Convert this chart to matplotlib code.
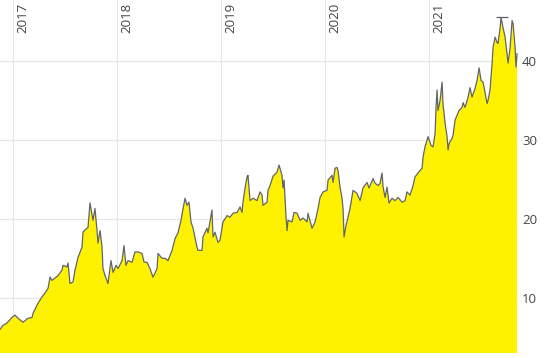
import matplotlib
matplotlib.use("Agg")
import matplotlib.pyplot as plt
import matplotlib.transforms as mtransforms

plt.rcParams["font.family"] = ["Open Sans", "DejaVu Sans"]

# time as decimal years, price values
years = [
    2016.878, 2016.907, 2016.945, 2016.993, 2017.022, 2017.051, 2017.099, 2017.147, 2017.186, 2017.195,
    2017.243, 2017.282, 2017.311, 2017.340, 2017.359, 2017.378, 2017.407, 2017.436, 2017.474, 2017.484,
    2017.522, 2017.532, 2017.551, 2017.580, 2017.599, 2017.628, 2017.666, 2017.676, 2017.705, 2017.724,
    2017.743, 2017.772, 2017.791, 2017.811, 2017.820, 2017.840, 2017.859, 2017.868, 2017.888, 2017.916,
    2017.945, 2017.965, 2017.993, 2018.013, 2018.051, 2018.070, 2018.089, 2018.109, 2018.147, 2018.176,
    2018.205, 2018.243, 2018.263, 2018.291, 2018.320, 2018.349, 2018.388, 2018.397, 2018.436, 2018.464,
    2018.493, 2018.532, 2018.561, 2018.589, 2018.618, 2018.638, 2018.657, 2018.676, 2018.695, 2018.714,
    2018.734, 2018.772, 2018.782, 2018.820, 2018.830, 2018.868, 2018.878, 2018.916, 2018.926, 2018.945,
    2018.974, 2018.993, 2019.022, 2019.061, 2019.089, 2019.118, 2019.157, 2019.186, 2019.205, 2019.214,
    2019.234, 2019.253, 2019.262, 2019.282, 2019.311, 2019.349, 2019.378, 2019.397, 2019.407, 2019.445,
    2019.455, 2019.474, 2019.503, 2019.541, 2019.561, 2019.589, 2019.599, 2019.609, 2019.628, 2019.638,
    2019.647, 2019.686, 2019.705, 2019.734, 2019.763, 2019.791, 2019.830, 2019.839, 2019.878, 2019.907,
    2019.936, 2019.955, 2019.984, 2020.022, 2020.032, 2020.070, 2020.080, 2020.099, 2020.118, 2020.128,
    2020.147, 2020.166, 2020.176, 2020.186, 2020.205, 2020.224, 2020.243, 2020.272, 2020.311, 2020.340,
    2020.368, 2020.407, 2020.426, 2020.465, 2020.484, 2020.513, 2020.532, 2020.551, 2020.561, 2020.580,
    2020.599, 2020.618, 2020.647, 2020.676, 2020.705, 2020.743, 2020.772, 2020.791, 2020.820, 2020.849,
    2020.868, 2020.897, 2020.936, 2020.945, 2020.964, 2020.984, 2020.993, 2021.022, 2021.041, 2021.061,
    2021.070, 2021.080, 2021.089, 2021.109, 2021.128, 2021.137, 2021.157, 2021.176, 2021.186, 2021.195,
    2021.224, 2021.234, 2021.253, 2021.272, 2021.291, 2021.320, 2021.330, 2021.349, 2021.378, 2021.397,
    2021.416, 2021.445, 2021.464, 2021.484, 2021.503, 2021.522, 2021.541, 2021.561, 2021.570, 2021.589,
    2021.609, 2021.618, 2021.638, 2021.657, 2021.666, 2021.686, 2021.695, 2021.714, 2021.734, 2021.753,
    2021.763, 2021.782, 2021.801, 2021.811, 2021.830, 2021.839, 2021.849,
]
prices = [
    6.0, 6.5, 6.8, 7.5, 7.8, 7.4, 6.9, 7.4, 7.5, 8.0,
    9.3, 10.1, 10.6, 11.2, 12.6, 12.2, 12.5, 12.8, 13.5, 14.1,
    13.9, 14.4, 11.8, 12.0, 13.5, 15.1, 16.4, 18.3, 18.7, 18.9,
    22.0, 19.8, 21.3, 18.5, 16.9, 18.5, 16.4, 13.7, 12.8, 11.8,
    14.7, 13.2, 14.1, 13.7, 14.7, 16.6, 14.1, 14.7, 14.5, 15.8,
    15.8, 15.6, 14.5, 14.5, 13.7, 12.6, 13.7, 15.6, 15.0, 15.0,
    14.7, 16.0, 17.5, 18.2, 19.8, 21.3, 22.6, 21.7, 22.1, 19.6,
    18.8, 16.4, 16.0, 16.0, 17.7, 18.8, 18.2, 21.1, 17.7, 18.3,
    17.0, 17.3, 19.6, 20.4, 20.2, 20.7, 20.8, 21.5, 20.8, 22.1,
    23.9, 25.3, 25.5, 22.3, 22.6, 22.3, 23.4, 23.0, 21.7, 22.1,
    23.6, 24.2, 25.4, 25.9, 26.8, 25.5, 23.9, 24.9, 20.2, 18.5,
    19.8, 19.6, 20.8, 20.7, 19.8, 20.1, 19.6, 20.7, 18.8, 19.6,
    21.3, 22.7, 23.4, 23.6, 24.9, 25.5, 24.6, 26.4, 26.5, 26.1,
    24.0, 22.6, 21.3, 17.7, 19.2, 20.2, 21.3, 23.6, 23.2, 22.3,
    23.9, 24.6, 23.9, 25.1, 24.5, 24.2, 24.5, 25.8, 24.0, 22.7,
    24.0, 22.0, 22.6, 22.3, 22.7, 22.1, 22.3, 23.4, 23.0, 24.2,
    25.3, 25.8, 26.4, 27.8, 29.1, 30.0, 30.4, 29.3, 29.1, 30.8,
    34.1, 36.3, 33.7, 35.0, 37.3, 34.6, 32.1, 30.4, 28.7, 29.5,
    30.2, 30.6, 32.5, 33.1, 33.7, 34.1, 34.7, 34.1, 35.4, 36.6,
    35.4, 36.5, 37.5, 39.1, 37.5, 37.3, 36.0, 34.6, 35.0, 36.3,
    39.7, 41.7, 43.0, 42.3, 42.2, 44.2, 45.5, 44.2, 43.0, 40.9,
    39.7, 41.7, 45.1, 44.7, 41.7, 39.2, 40.9,
]
year_ticks = [2017, 2018, 2019, 2020, 2021]
y_ticks = [10, 20, 30, 40]

FILL = "#FFF200"
LINE = "#61656b"
GRID = "#e6e6e6"
TEXT = "#444444"

fig = plt.figure(figsize=(5.45, 3.58), dpi=100)
ax = fig.add_axes([0, 1 - 353 / 358, 518 / 545, 353 / 358])

ax.fill_between(years, prices, 0, color=FILL, linewidth=0, zorder=2)
ax.plot(years, prices, color=LINE, linewidth=0.9, zorder=3)

# cap at the high of the period
i_max = prices.index(max(prices))
ax.hlines(prices[i_max] + 0.1, years[i_max] - 0.045, years[i_max] + 0.065,
          color=LINE, linewidth=0.9, zorder=3)

ax.set_xlim(2016.878, 2021.858)
ax.set_ylim(3.0, 47.7)

ax.set_xticks(year_ticks)
ax.set_yticks(y_ticks)
ax.grid(True, color=GRID, linewidth=0.8, zorder=0)
ax.set_axisbelow(True)
ax.tick_params(axis="x", length=0, labelbottom=False)
ax.yaxis.tick_right()
ax.tick_params(axis="y", length=0, pad=3, labelsize=9.5, labelcolor=TEXT)
for spine in ax.spines.values():
    spine.set_visible(False)

# year labels, rotated, at the top right of each gridline
offset = mtransforms.ScaledTranslation(4 / 100, -3 / 100, fig.dpi_scale_trans)
trans = mtransforms.blended_transform_factory(ax.transData, ax.transAxes) + offset
for yr in year_ticks:
    ax.text(yr, 1.0, str(yr), rotation=90, ha="left", va="top",
            fontsize=9.5, color=TEXT, transform=trans)

fig.savefig("out.png", dpi=100)
